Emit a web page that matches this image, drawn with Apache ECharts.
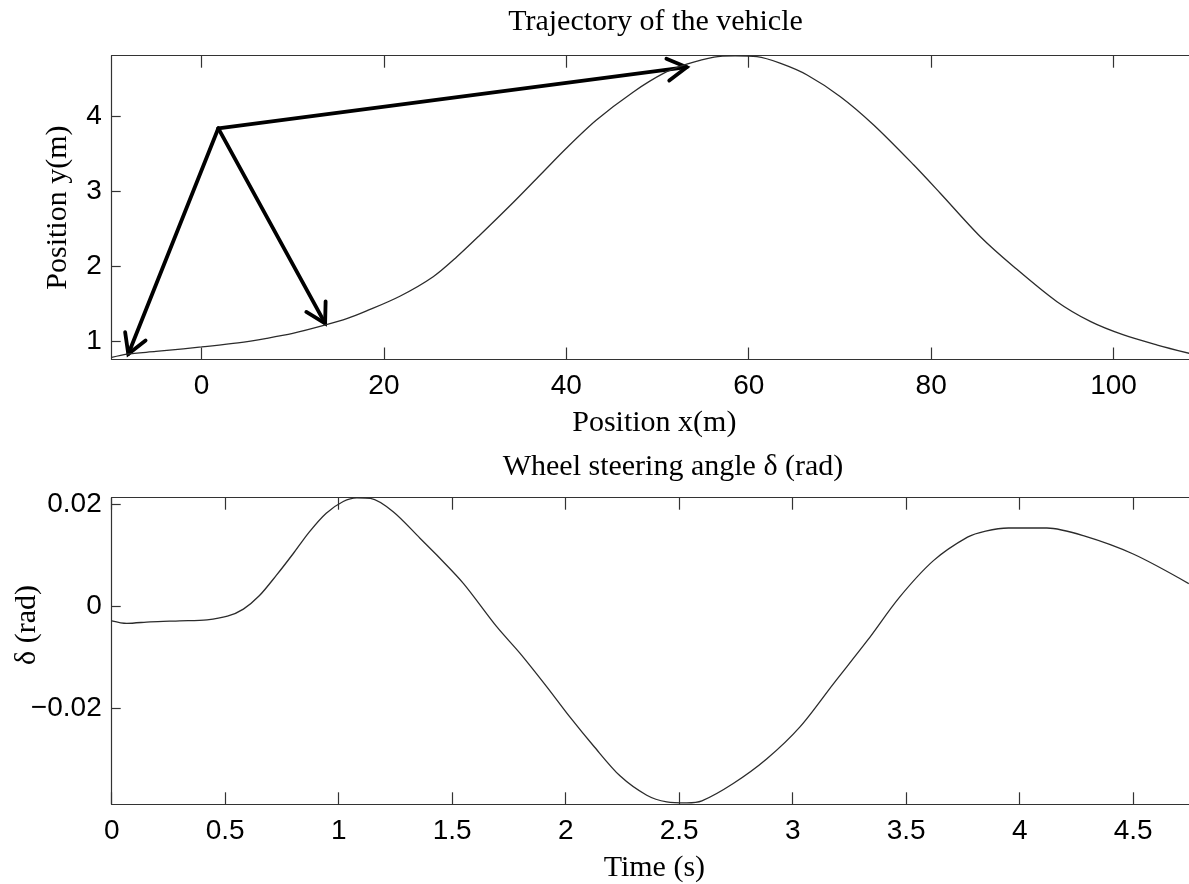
<!DOCTYPE html>
<html lang="en">
<head>
    <meta charset="UTF-8">
    <title>Trajectory and steering angle</title>
    <script src="https://cdn.jsdelivr.net/npm/echarts@6/dist/echarts.min.js"></script>
    <style>html,body{margin:0;padding:0;background:#fff;}</style>
</head>
<body>
    <div id="chart1" style="width:1189px;height:884px;"></div>
    <script>
        // top plot: trajectory y(x)
        var trajX=[-9.85,-8.2,-5,-2,0,4,7.15,10,13.5,16,18.1,21.8,25.4,28,30.5,34.2,37.1,40,43.3,47.35,50.7,53.2,56.2,58.5,60.9,63.5,66.4,70.05,73.7,78.1,81.0,85.4,89.06,93.8,97.5,101.1,104.8,108.3]
        var trajY=[0.79,0.835,0.87,0.905,0.93,0.985,1.045,1.11,1.22,1.31,1.41,1.61,1.867,2.133,2.42,2.86,3.22,3.58,3.956,4.33,4.58,4.70,4.795,4.81,4.80,4.71,4.556,4.267,3.89,3.356,2.98,2.40,2.0,1.533,1.267,1.09,0.956,0.845]
        var xTicks1=[0,20,40,60,80,100]
        var yTicks1=[1,2,3,4]
        // arrows: [fromX, fromY, toX, toY]
        var arrows=[[1.84,3.845,-8.03,0.836],[1.84,3.845,13.55,1.245],[1.84,3.845,53.2,4.66]]

        // bottom plot: steering angle over time
        var steerT=[0,0.066,0.17,0.3,0.42,0.51,0.58,0.65,0.725,0.80,0.87,0.945,1.02,1.08,1.14,1.24,1.358,1.432,1.549,1.696,1.799,1.916,2.019,2.122,2.239,2.357,2.445,2.533,2.6,2.738,2.885,3.032,3.18,3.33,3.47,3.62,3.77,3.85,3.95,4.12,4.28,4.50,4.745]
        var steerD=[-0.0029,-0.0034,-0.0031,-0.0029,-0.0027,-0.0020,-0.0006,0.0020,0.0060,0.0103,0.0145,0.0182,0.0205,0.0212,0.0211,0.0185,0.0133,0.0100,0.00445,-0.00405,-0.00928,-0.0158,-0.0218,-0.0274,-0.0333,-0.0371,-0.0384,-0.0386,-0.0382,-0.0348,-0.0300,-0.0237,-0.0152,-0.0067,0.0017,0.0089,0.0135,0.0147,0.0153,0.0153,0.0138,0.0102,0.0044]
        var xTicks2=[0,0.5,1,1.5,2,2.5,3,3.5,4,4.5]
        var yTicks2=[-0.02,0,0.02]

        var myCharts=echarts.init(document.getElementById("chart1"))
        var axisColor="#333"
        var sans="Liberation Sans"
        var serif="Liberation Serif"

        function pairs(xs,ys){
            return xs.map(function(v,i){return [v,ys[i]]})
        }
        function fmt(v){
            return v<0 ? "\u2212"+Math.abs(v) : String(v)
        }
        // value axis with matlab-like inside ticks
        function axis(grid,pos,min,max,ticks,tickLen,showLabel){
            return {
                type:"value",
                gridIndex:grid,
                position:pos,
                min:min,
                max:max,
                axisLine:{show:true,onZero:false,lineStyle:{color:axisColor,width:1.2}},
                axisTick:{show:true,inside:true,length:tickLen,customValues:ticks,lineStyle:{color:axisColor,width:1.2}},
                axisLabel:{show:showLabel,customValues:ticks,formatter:fmt,color:"#000",fontFamily:sans,fontSize:28,margin:pos=="left"?10:13},
                splitLine:{show:false}
            }
        }
        function named(ax,name,gap,extra){
            ax.name=name
            ax.nameLocation="middle"
            ax.nameGap=gap
            ax.nameMoveOverlap=false
            ax.nameTextStyle=Object.assign({fontFamily:serif,fontSize:30,color:"#000"},extra||{})
            return ax
        }

        var option={
            animation:false,
            grid:[
                {left:111.7,top:55.7,width:1085.3,height:303.8,outerBoundsMode:"none",containLabel:false},
                {left:111.7,top:497.7,width:1085.3,height:306.6,outerBoundsMode:"none",containLabel:false}
            ],
            graphic:[
                {type:"text",x:655.5,y:22,style:{text:"Trajectory of the vehicle",font:'30px "Liberation Serif"',fill:"#000",align:"center",verticalAlign:"middle"}},
                {type:"text",x:673,y:467,style:{text:"Wheel steering angle \u03b4 (rad)",font:'30px "Liberation Serif"',fill:"#000",align:"center",verticalAlign:"middle"}}
            ],
            xAxis:[
                named(axis(0,"bottom",-9.85,109.15,xTicks1,12,true),"Position x(m)",49),
                axis(0,"top",-9.85,109.15,xTicks1,12,false),
                named(axis(1,"bottom",0,4.781,xTicks2,12,true),"Time (s)",49),
                axis(1,"top",0,4.781,xTicks2,12,false)
            ],
            yAxis:[
                named(axis(0,"left",0.763,4.813,yTicks1,9,true),"Position y(m)",39),
                named(axis(1,"left",-0.03888,0.02124,yTicks2,9,true),"\u03b4 (rad)",70,{padding:[0,0,0,52]})
            ],
            series:[
                {
                    type:"line",
                    xAxisIndex:0,
                    yAxisIndex:0,
                    data:pairs(trajX,trajY),
                    showSymbol:false,
                    smooth:0.3,
                    lineStyle:{color:"#2b2b2b",width:1.3}
                },
                {
                    type:"custom",
                    xAxisIndex:0,
                    yAxisIndex:0,
                    data:arrows,
                    encode:{x:[0,2],y:[1,3]},
                    clip:false,
                    renderItem:function(params,api){
                        var p0=api.coord([api.value(0),api.value(1)])
                        var p1=api.coord([api.value(2),api.value(3)])
                        var ang=Math.atan2(p1[1]-p0[1],p1[0]-p0[0])
                        var len=22,spread=Math.PI/6
                        var h1=[p1[0]-len*Math.cos(ang-spread),p1[1]-len*Math.sin(ang-spread)]
                        var h2=[p1[0]-len*Math.cos(ang+spread),p1[1]-len*Math.sin(ang+spread)]
                        var st={stroke:"#000",lineWidth:3.8,fill:null,lineCap:"round",lineJoin:"miter"}
                        return {
                            type:"group",
                            children:[
                                {type:"line",shape:{x1:p0[0],y1:p0[1],x2:p1[0],y2:p1[1]},style:st},
                                {type:"polyline",shape:{points:[h1,p1,h2]},style:st}
                            ]
                        }
                    }
                },
                {
                    type:"line",
                    xAxisIndex:2,
                    yAxisIndex:1,
                    data:pairs(steerT,steerD),
                    showSymbol:false,
                    smooth:0.3,
                    lineStyle:{color:"#2b2b2b",width:1.3}
                }
            ]
        }
        myCharts.setOption(option)
    </script>
</body>
</html>
